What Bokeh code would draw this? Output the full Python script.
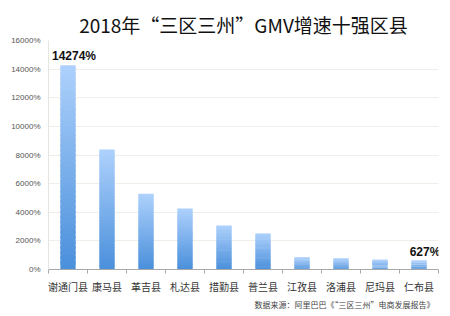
from bokeh.plotting import figure
from bokeh.models import FixedTicker, Title, ColumnDataSource, Label
from bokeh.embed import file_html
from bokeh.resources import INLINE
import numpy as np

categories = ["谢通门县", "康马县", "革吉县", "札达县", "措勤县", "普兰县", "江孜县", "洛浦县", "尼玛县", "仁布县"]
growth = [14274, 8390, 5290, 4260, 3070, 2520, 860, 800, 680, 627]
y_ticks = [0, 2000, 4000, 6000, 8000, 10000, 12000, 14000, 16000]
y_tick_labels = ["0%", "2000%", "4000%", "6000%", "8000%", "10000%", "12000%", "14000%", "16000%"]
labelled = {0: "14274%", 9: "627%"}

FONT = "Noto Sans CJK SC"

p = figure(width=450, height=316, output_backend="svg", toolbar_location=None,
           x_range=(0, 10), y_range=(0, 16000),
           min_border_left=48, min_border_right=12, min_border_top=40, min_border_bottom=47)
p.title.text = "2018年“三区三州”GMV增速十强区县"
p.title.text_font = FONT
p.title.text_font_size = "19px"
p.title.text_font_style = "normal"
p.title.text_color = "#111111"
p.title.align = "center"
p.title.offset = -8
p.title.standoff = 6

# gradient bars built from data (overlapping slices, no outline)
n = 40
bot_c = np.array([0x4a, 0x8f, 0xdb])
top_c = np.array([0xae, 0xd1, 0xfc])
L, R, B, T, C = [], [], [], [], []
w = 0.39
for i, v in enumerate(growth):
    for k in range(n):
        f = (k + 0.5) / n
        c = bot_c + (top_c - bot_c) * f
        L.append(i + 0.5 - w / 2)
        R.append(i + 0.5 + w / 2)
        B.append(v * k / n)
        T.append(min(v, v * (k + 1.6) / n))
        C.append("#%02x%02x%02x" % tuple(int(round(x)) for x in c))
src = ColumnDataSource(dict(left=L, right=R, bottom=B, top=T, color=C))
p.quad(left="left", right="right", bottom="bottom", top="top", fill_color="color",
       line_color=None, source=src)

for i, t in labelled.items():
    p.add_layout(Label(x=i + 0.5, y=growth[i], text=t, text_font="Liberation Sans",
                       text_font_size="12px", text_font_style="bold", text_color="#111111",
                       text_align="center", y_offset=2, x_offset=6))

# axes
p.xaxis.ticker = FixedTicker(ticks=[i + 0.5 for i in range(len(categories))],
                             minor_ticks=list(range(len(categories) + 1)))
p.xaxis.major_label_overrides = {i + 0.5: c for i, c in enumerate(categories)}
p.xaxis.major_tick_out = 0
p.xaxis.major_tick_in = 0
p.xaxis.minor_tick_out = 4
p.xaxis.minor_tick_in = 0
p.xaxis.minor_tick_line_color = "#a8a8a8"
p.xaxis.axis_line_color = "#a8a8a8"
p.xaxis.major_label_text_font = FONT
p.xaxis.major_label_text_font_size = "10px"
p.xaxis.major_label_text_color = "#333333"
p.xaxis.major_label_standoff = 5

p.yaxis.ticker = FixedTicker(ticks=y_ticks)
p.yaxis.major_label_overrides = {t: l for t, l in zip(y_ticks, y_tick_labels)}
p.yaxis.major_tick_out = 0
p.yaxis.major_tick_in = 0
p.yaxis.minor_tick_line_color = None
p.yaxis.axis_line_color = "#e6e6e0"
p.yaxis.major_label_text_font = "Liberation Sans"
p.yaxis.major_label_text_font_size = "8px"
p.yaxis.major_label_text_color = "#555555"
p.yaxis.major_label_standoff = 8

p.xgrid.grid_line_color = None
p.ygrid.grid_line_color = "#efeee8"
p.outline_line_color = None

src_title = Title(text="数据来源：阿里巴巴《“三区三州”电商发展报告》", align="right",
                  text_font=FONT, text_font_size="8px", text_font_style="normal",
                  text_color="#444444", standoff=0)
p.add_layout(src_title, "below")

open("out.html", "w").write(file_html(p, INLINE))
